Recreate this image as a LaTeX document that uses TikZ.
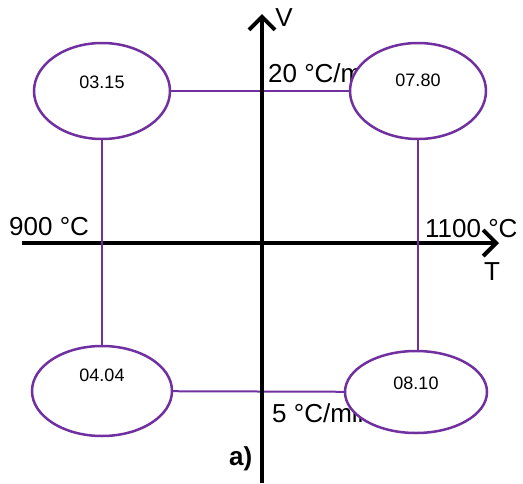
\documentclass[tikz,border=0pt]{standalone}
\usepackage{fontspec}
\setmainfont{Liberation Sans}
\usetikzlibrary{arrows.meta,shapes.geometric}
\definecolor{LinePurple}{HTML}{7030A0}
\begin{document}
\begin{tikzpicture}[x=1pt,y=-1pt,>={Straight Barb[length=13pt,width=26pt]},
 every node/.style={font=\fontsize{26}{30}\selectfont,inner sep=0pt},
 state/.style={ellipse,draw=LinePurple,line width=2.5pt,fill=white},
 rate/.style={font=\fontsize{18}{22}\selectfont},
 link/.style={draw=LinePurple,line width=2pt},axis/.style={->,line width=4pt}]
\useasboundingbox (0,0) rectangle (523,483);
\node[anchor=base west] (fast) at (268,82){20 °C/min};\node[anchor=base west] (slow) at (272,422){5 °C/min};
\node[anchor=base west] (tlow) at (9,235){900 °C};\node[anchor=base west] (thigh) at (425,237){1100 °C};
\node (vlab) at (284,18){V};\node (tlab) at (492,272){T};\node[anchor=base west,font=\fontsize{26}{30}\selectfont\bfseries] (tag) at (229,465){a)};
\coordinate (xl) at (22,243);\coordinate (xr) at (499,243);\coordinate (yb) at (262,483);\coordinate (yt) at (262,14);
\draw[axis] (xl)--(xr);
\node[state,minimum width=136pt,minimum height=96pt,label={[rate,yshift=9pt]center:03.15}] (s315) at (102,91){};
\node[state,minimum width=136pt,minimum height=96pt,label={[rate,yshift=11pt]center:07.80}] (s780) at (418,91){};
\node[state,minimum width=140pt,minimum height=90pt,label={[rate,yshift=16pt]center:04.04}] (s404) at (102,391){};
\node[state,minimum width=142pt,minimum height=82pt,label={[rate,yshift=9pt]center:08.10}] (s810) at (416,392){};
\draw[link] (s315)--(s780);\draw[link] (s315)--(s404);\draw[link] (s780)--(s780|-s810.north);\draw[link] (s404)--(s810);
\draw[axis] (yb)--(yt);
\end{tikzpicture}
\end{document}
